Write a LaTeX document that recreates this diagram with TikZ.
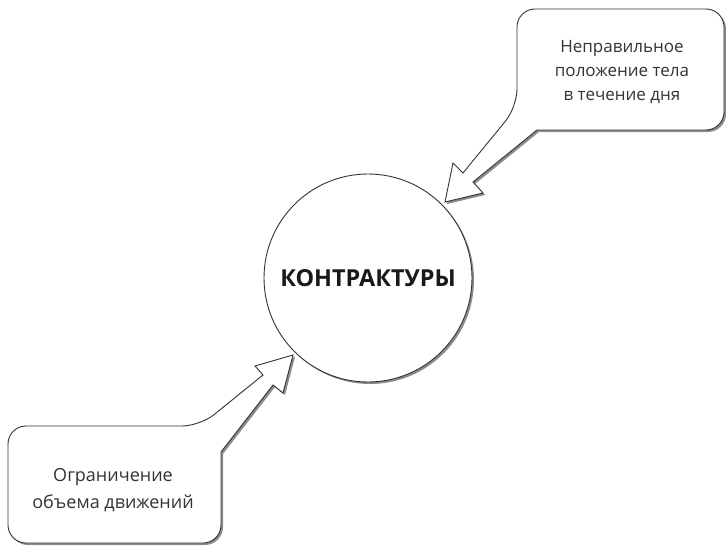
\documentclass[tikz,border=0pt]{standalone}
\usepackage{fontspec}
\setmainfont{Open Sans}
\newfontfamily\titlefont{Open Sans}
\usetikzlibrary{shadows}
\tikzset{
  shapeline/.style={draw=black!80, line width=0.9pt, fill=white,
    drop shadow={shadow xshift=2pt, shadow yshift=-2pt, fill=black, opacity=0.45}},
  calltext/.style={align=center, text=black!80, font=\fontsize{17}{24}\selectfont},
  calltextb/.style={align=center, text=black!80, font=\fontsize{18}{27}\selectfont},
  titletext/.style={text=black!90, font=\titlefont\bfseries\fontsize{23.4}{28}\selectfont}
}
\begin{document}
\begin{tikzpicture}[x=1pt,y=-1pt]
\useasboundingbox (0,0) rectangle (726,546);
% central circle
\node[shapeline, circle, minimum size=208pt, inner sep=0pt] (c) at (368,278) {};
\node[titletext] (ctext) at (c.center) {КОНТРАКТУРЫ};
% top-right callout
\path[shapeline] (537,130) [rounded corners=18pt] -- (724,130) -- (724,9) -- (517,9) -- (517,107)
  [sharp corners] -- (463,173) -- (453,163) -- (445,202) -- (483,193) -- (473,182) -- cycle;
\node[calltext] (t1) at (622,72) {Неправильное\\положение тела\\в течение дня};
% bottom-left callout
\path[shapeline] (221,452) [rounded corners=18pt] -- (221,543) -- (8,543) -- (8,426) -- (200,426)
  [sharp corners] -- (263,375) -- (255,366) -- (293,355) -- (283,393) -- (273,385) -- cycle;
\node[calltextb] (t2) at (113,490) {Ограничение\\объема движений};
\end{tikzpicture}
\end{document}
